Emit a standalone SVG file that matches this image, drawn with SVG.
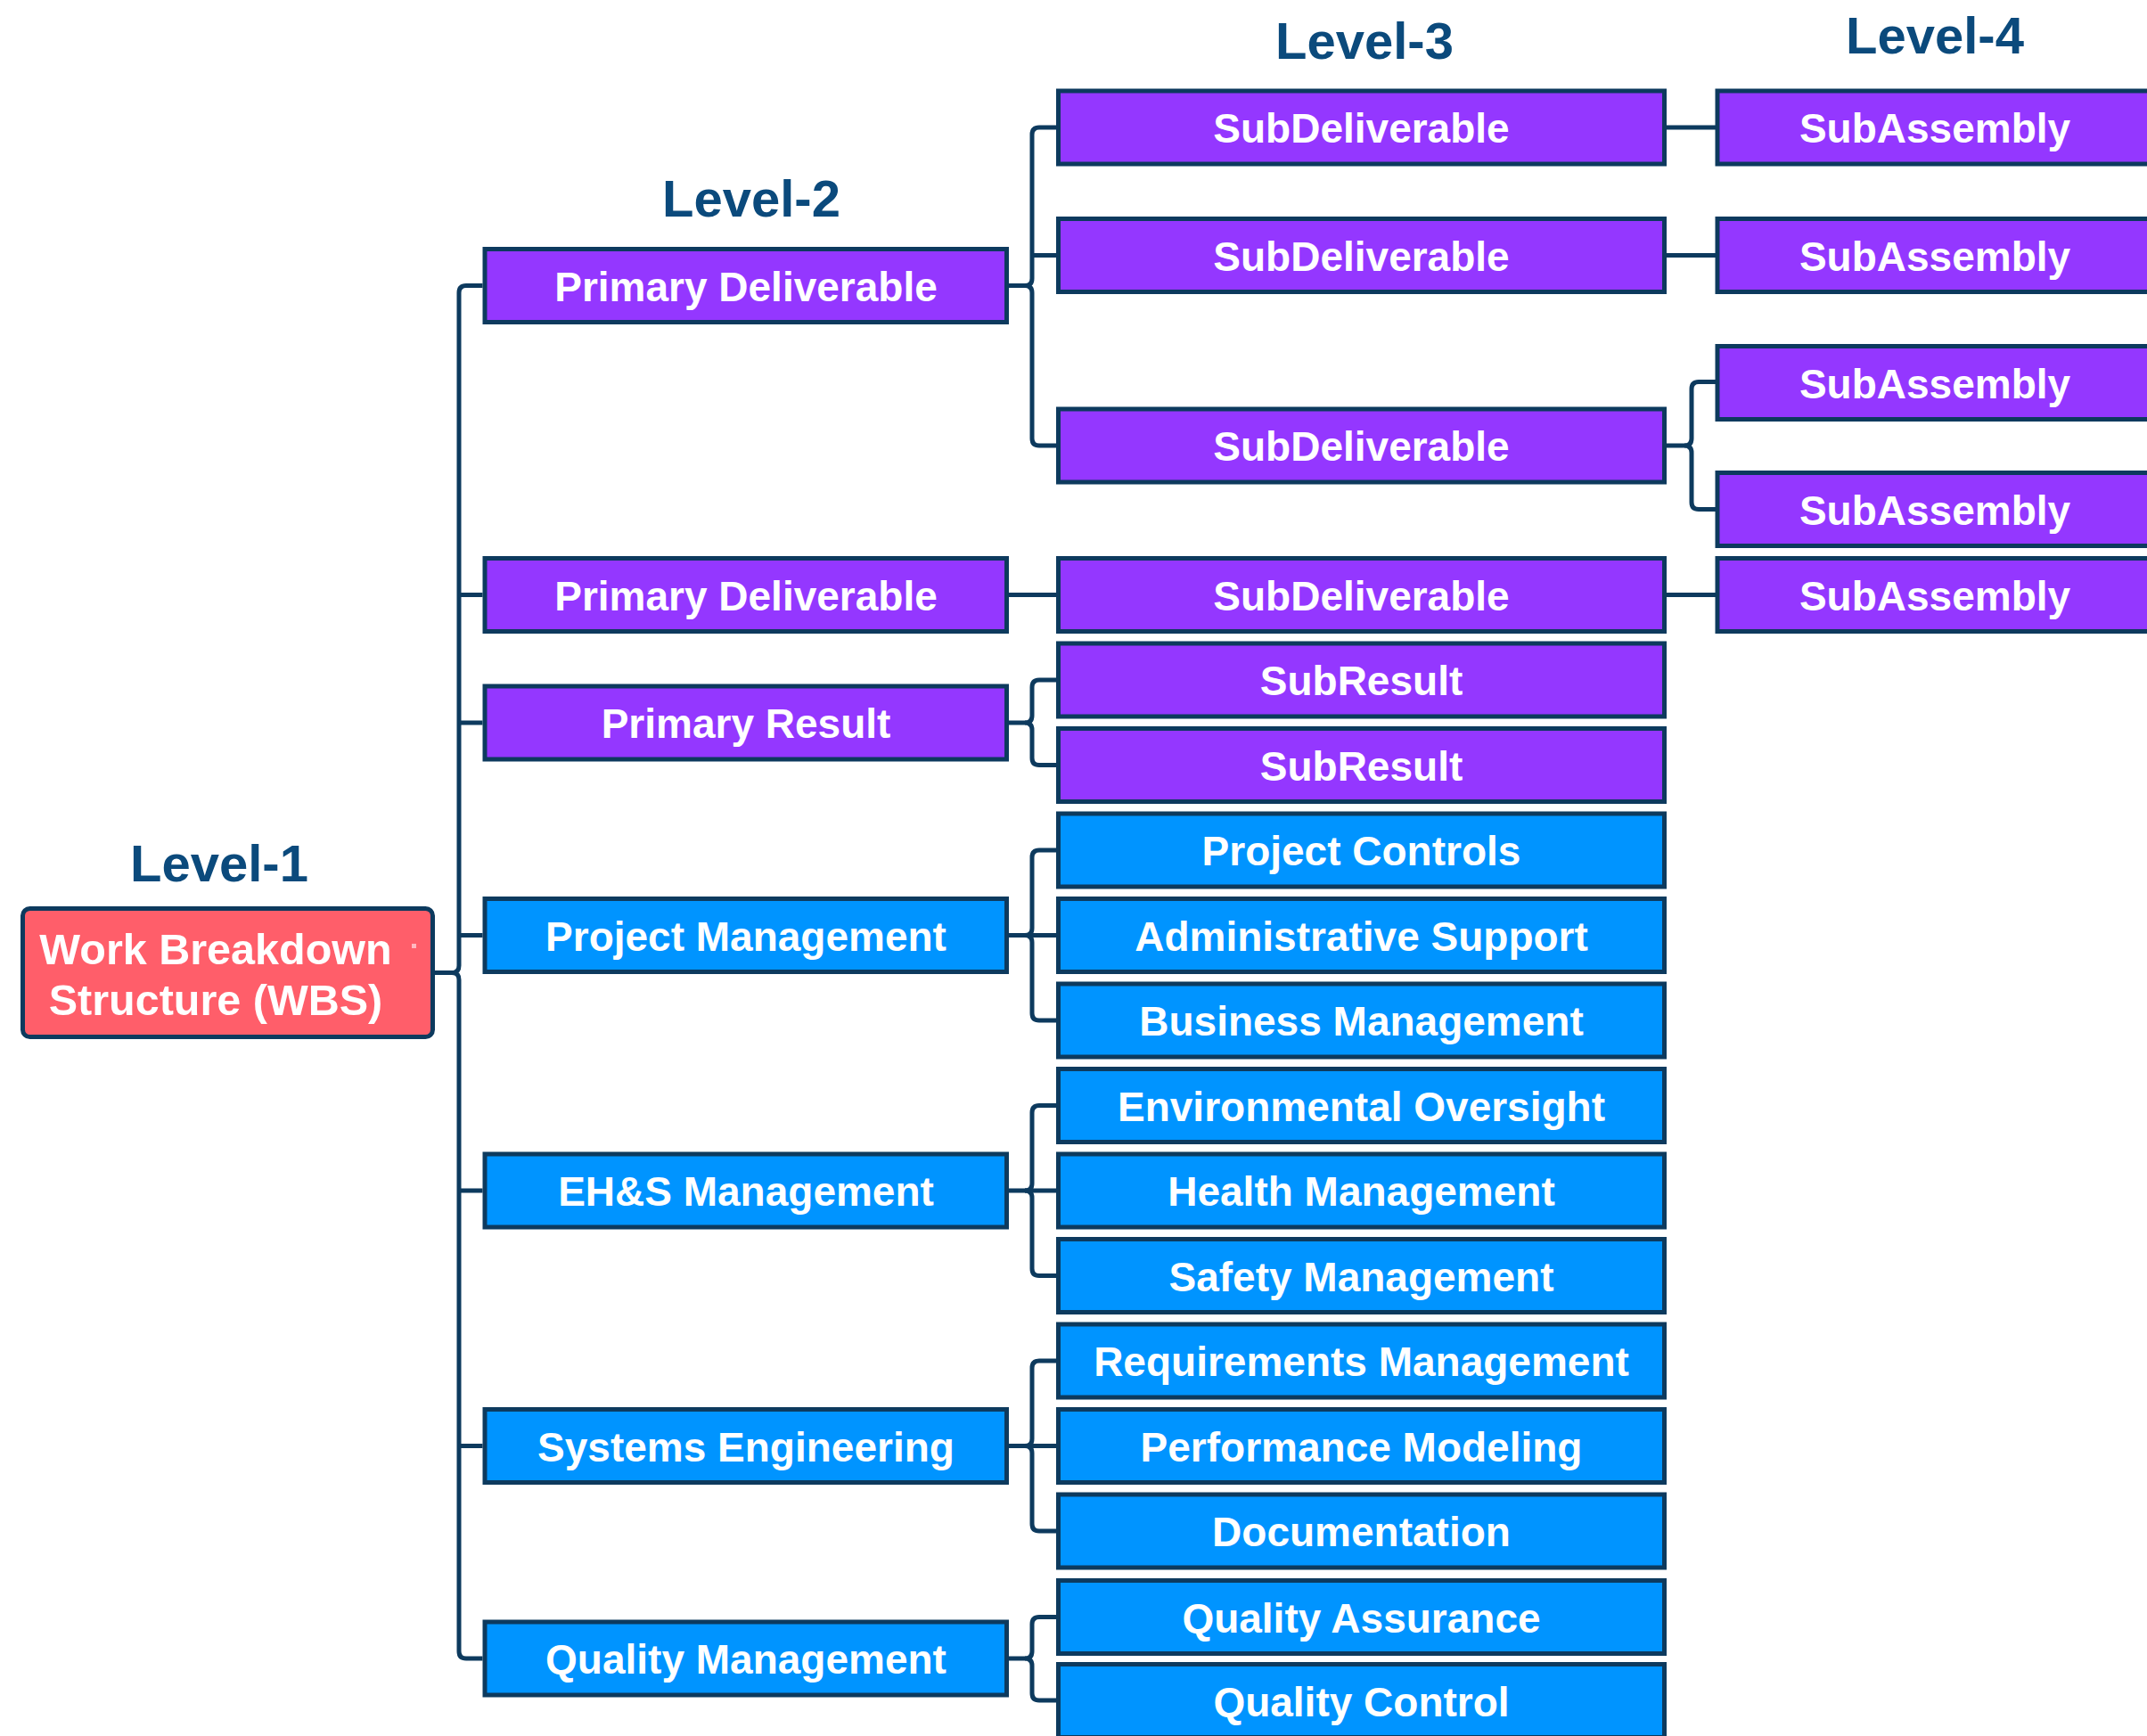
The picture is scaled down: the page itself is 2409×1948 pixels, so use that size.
<svg xmlns="http://www.w3.org/2000/svg" width="2409" height="1948" viewBox="0 0 2409 1948">
  <style>
    .box { stroke: #0d3a5e; stroke-width: 5; }
    .purple { fill: #9437ff; }
    .blue { fill: #0094ff; }
    .root { fill: #ff5e6a; }
    .lbl { font-family: "Liberation Sans", Arial, Helvetica, sans-serif; font-weight: bold; font-size: 46px; fill: #ffffff; text-anchor: middle; }
    .rootlbl { font-size: 48.5px; }
    .hdr { font-family: "Liberation Sans", Arial, Helvetica, sans-serif; font-weight: bold; font-size: 58px; fill: #0b4a7c; text-anchor: middle; }
    .wire { fill: none; stroke: #0d3a5e; stroke-width: 5; stroke-linecap: butt; stroke-linejoin: round; }
  </style>
  <rect width="2409" height="1948" fill="#ffffff"/>

  <!-- level headings -->
  <g id="headings">
    <text class="hdr" x="246" y="989">Level-1</text>
    <text class="hdr" x="843" y="243">Level-2</text>
    <text class="hdr" x="1531" y="66">Level-3</text>
    <text class="hdr" x="2171" y="60">Level-4</text>
  </g>

  <!-- tree connectors -->
  <g id="connectors">
    <!-- WBS to level 2 (trunk x=515) -->
    <path class="wire" d="M541.5,320.5 L523,320.5 Q515,320.5 515,328.5 L515,1083.5 Q515,1091.5 507,1091.5"/>
    <path class="wire" d="M541.5,1861 L523,1861 Q515,1861 515,1853 L515,1099.5 Q515,1091.5 507,1091.5"/>
    <path class="wire" d="M488,1091.5 L507,1091.5"/>
    <path class="wire" d="M515,667.5 L541.5,667.5 M515,811 L541.5,811 M515,1049.5 L541.5,1049.5 M515,1336 L541.5,1336 M515,1622.5 L541.5,1622.5"/>

    <!-- Primary Deliverable 1 to SubDeliverables (trunk x=1158) -->
    <path class="wire" d="M1185,143 L1166,143 Q1158,143 1158,151 L1158,312.5 Q1158,320.5 1150,320.5"/>
    <path class="wire" d="M1185,500 L1166,500 Q1158,500 1158,492 L1158,328.5 Q1158,320.5 1150,320.5"/>
    <path class="wire" d="M1132,320.5 L1150,320.5 M1158,286.5 L1185,286.5"/>

    <!-- Primary Deliverable 2 to SubDeliverable -->
    <path class="wire" d="M1132,667.5 L1185,667.5"/>

    <!-- Primary Result to SubResults -->
    <path class="wire" d="M1185,763 L1166,763 Q1158,763 1158,771 L1158,803 Q1158,811 1150,811"/>
    <path class="wire" d="M1185,858.5 L1166,858.5 Q1158,858.5 1158,850.5 L1158,819 Q1158,811 1150,811"/>
    <path class="wire" d="M1132,811 L1150,811"/>

    <!-- Project Management -->
    <path class="wire" d="M1185,954 L1166,954 Q1158,954 1158,962 L1158,1041.5 Q1158,1049.5 1150,1049.5"/>
    <path class="wire" d="M1185,1145 L1166,1145 Q1158,1145 1158,1137 L1158,1057.5 Q1158,1049.5 1150,1049.5"/>
    <path class="wire" d="M1132,1049.5 L1185,1049.5"/>

    <!-- EH&S Management -->
    <path class="wire" d="M1185,1240.5 L1166,1240.5 Q1158,1240.5 1158,1248.5 L1158,1328 Q1158,1336 1150,1336"/>
    <path class="wire" d="M1185,1431.5 L1166,1431.5 Q1158,1431.5 1158,1423.5 L1158,1344 Q1158,1336 1150,1336"/>
    <path class="wire" d="M1132,1336 L1185,1336"/>

    <!-- Systems Engineering -->
    <path class="wire" d="M1185,1527 L1166,1527 Q1158,1527 1158,1535 L1158,1614.5 Q1158,1622.5 1150,1622.5"/>
    <path class="wire" d="M1185,1718 L1166,1718 Q1158,1718 1158,1710 L1158,1630.5 Q1158,1622.5 1150,1622.5"/>
    <path class="wire" d="M1132,1622.5 L1185,1622.5"/>

    <!-- Quality Management -->
    <path class="wire" d="M1185,1814.5 L1166,1814.5 Q1158,1814.5 1158,1822.5 L1158,1853 Q1158,1861 1150,1861"/>
    <path class="wire" d="M1185,1908 L1166,1908 Q1158,1908 1158,1900 L1158,1869 Q1158,1861 1150,1861"/>
    <path class="wire" d="M1132,1861 L1150,1861"/>

    <!-- SubDeliverables to SubAssemblies -->
    <path class="wire" d="M1870,143 L1925,143 M1870,286.5 L1925,286.5 M1870,667.5 L1925,667.5"/>
    <path class="wire" d="M1925,428.5 L1906,428.5 Q1898,428.5 1898,436.5 L1898,492 Q1898,500 1890,500"/>
    <path class="wire" d="M1925,571.5 L1906,571.5 Q1898,571.5 1898,563.5 L1898,508 Q1898,500 1890,500"/>
    <path class="wire" d="M1870,500 L1890,500"/>
  </g>

  <!-- Level 1 -->
  <g id="wbs">
    <rect class="box root" x="25.5" y="1019.5" width="460" height="144" rx="8"/>
    <text class="lbl rootlbl" x="242" y="1082">Work Breakdown</text>
    <text class="lbl rootlbl" x="242" y="1139">Structure (WBS)</text>
    <rect x="462" y="1059" width="5" height="5" fill="#ffb8c0"/>
  </g>

  <!-- Level 2 -->
  <g id="primary-deliverable-1"><rect class="box purple" x="544" y="279.5" width="585.5" height="82"/><text class="lbl" x="837" y="337.5">Primary Deliverable</text></g>
  <g id="primary-deliverable-2"><rect class="box purple" x="544" y="626.5" width="585.5" height="82"/><text class="lbl" x="837" y="684.5">Primary Deliverable</text></g>
  <g id="primary-result"><rect class="box purple" x="544" y="770" width="585.5" height="82"/><text class="lbl" x="837" y="828">Primary Result</text></g>
  <g id="project-management"><rect class="box blue" x="544" y="1008.5" width="585.5" height="82"/><text class="lbl" x="837" y="1066.5">Project Management</text></g>
  <g id="ehs-management"><rect class="box blue" x="544" y="1295" width="585.5" height="82"/><text class="lbl" x="837" y="1353">EH&amp;S Management</text></g>
  <g id="systems-engineering"><rect class="box blue" x="544" y="1581.5" width="585.5" height="82"/><text class="lbl" x="837" y="1639.5">Systems Engineering</text></g>
  <g id="quality-management"><rect class="box blue" x="544" y="1820" width="585.5" height="82"/><text class="lbl" x="837" y="1878">Quality Management</text></g>

  <!-- Level 3 -->
  <g id="subdeliverable-1"><rect class="box purple" x="1187.5" y="102" width="680" height="82"/><text class="lbl" x="1527.5" y="160">SubDeliverable</text></g>
  <g id="subdeliverable-2"><rect class="box purple" x="1187.5" y="245.5" width="680" height="82"/><text class="lbl" x="1527.5" y="303.5">SubDeliverable</text></g>
  <g id="subdeliverable-3"><rect class="box purple" x="1187.5" y="459" width="680" height="82"/><text class="lbl" x="1527.5" y="517">SubDeliverable</text></g>
  <g id="subdeliverable-4"><rect class="box purple" x="1187.5" y="626.5" width="680" height="82"/><text class="lbl" x="1527.5" y="684.5">SubDeliverable</text></g>
  <g id="subresult-1"><rect class="box purple" x="1187.5" y="722" width="680" height="82"/><text class="lbl" x="1527.5" y="780">SubResult</text></g>
  <g id="subresult-2"><rect class="box purple" x="1187.5" y="817.5" width="680" height="82"/><text class="lbl" x="1527.5" y="875.5">SubResult</text></g>
  <g id="project-controls"><rect class="box blue" x="1187.5" y="913" width="680" height="82"/><text class="lbl" x="1527.5" y="971">Project Controls</text></g>
  <g id="administrative-support"><rect class="box blue" x="1187.5" y="1008.5" width="680" height="82"/><text class="lbl" x="1527.5" y="1066.5">Administrative Support</text></g>
  <g id="business-management"><rect class="box blue" x="1187.5" y="1104" width="680" height="82"/><text class="lbl" x="1527.5" y="1162">Business Management</text></g>
  <g id="environmental-oversight"><rect class="box blue" x="1187.5" y="1199.5" width="680" height="82"/><text class="lbl" x="1527.5" y="1257.5">Environmental Oversight</text></g>
  <g id="health-management"><rect class="box blue" x="1187.5" y="1295" width="680" height="82"/><text class="lbl" x="1527.5" y="1353">Health Management</text></g>
  <g id="safety-management"><rect class="box blue" x="1187.5" y="1390.5" width="680" height="82"/><text class="lbl" x="1527.5" y="1448.5">Safety Management</text></g>
  <g id="requirements-management"><rect class="box blue" x="1187.5" y="1486" width="680" height="82"/><text class="lbl" x="1527.5" y="1544">Requirements Management</text></g>
  <g id="performance-modeling"><rect class="box blue" x="1187.5" y="1581.5" width="680" height="82"/><text class="lbl" x="1527.5" y="1639.5">Performance Modeling</text></g>
  <g id="documentation"><rect class="box blue" x="1187.5" y="1677" width="680" height="82"/><text class="lbl" x="1527.5" y="1735">Documentation</text></g>
  <g id="quality-assurance"><rect class="box blue" x="1187.5" y="1773.5" width="680" height="82"/><text class="lbl" x="1527.5" y="1831.5">Quality Assurance</text></g>
  <g id="quality-control"><rect class="box blue" x="1187.5" y="1867.5" width="680" height="82"/><text class="lbl" x="1527.5" y="1925.5">Quality Control</text></g>

  <!-- Level 4 -->
  <g id="subassembly-1"><rect class="box purple" x="1927" y="102" width="488" height="82"/><text class="lbl" x="2171" y="160">SubAssembly</text></g>
  <g id="subassembly-2"><rect class="box purple" x="1927" y="245.5" width="488" height="82"/><text class="lbl" x="2171" y="303.5">SubAssembly</text></g>
  <g id="subassembly-3"><rect class="box purple" x="1927" y="388.5" width="488" height="82"/><text class="lbl" x="2171" y="446.5">SubAssembly</text></g>
  <g id="subassembly-4"><rect class="box purple" x="1927" y="530.5" width="488" height="82"/><text class="lbl" x="2171" y="588.5">SubAssembly</text></g>
  <g id="subassembly-5"><rect class="box purple" x="1927" y="626.5" width="488" height="82"/><text class="lbl" x="2171" y="684.5">SubAssembly</text></g>
</svg>
